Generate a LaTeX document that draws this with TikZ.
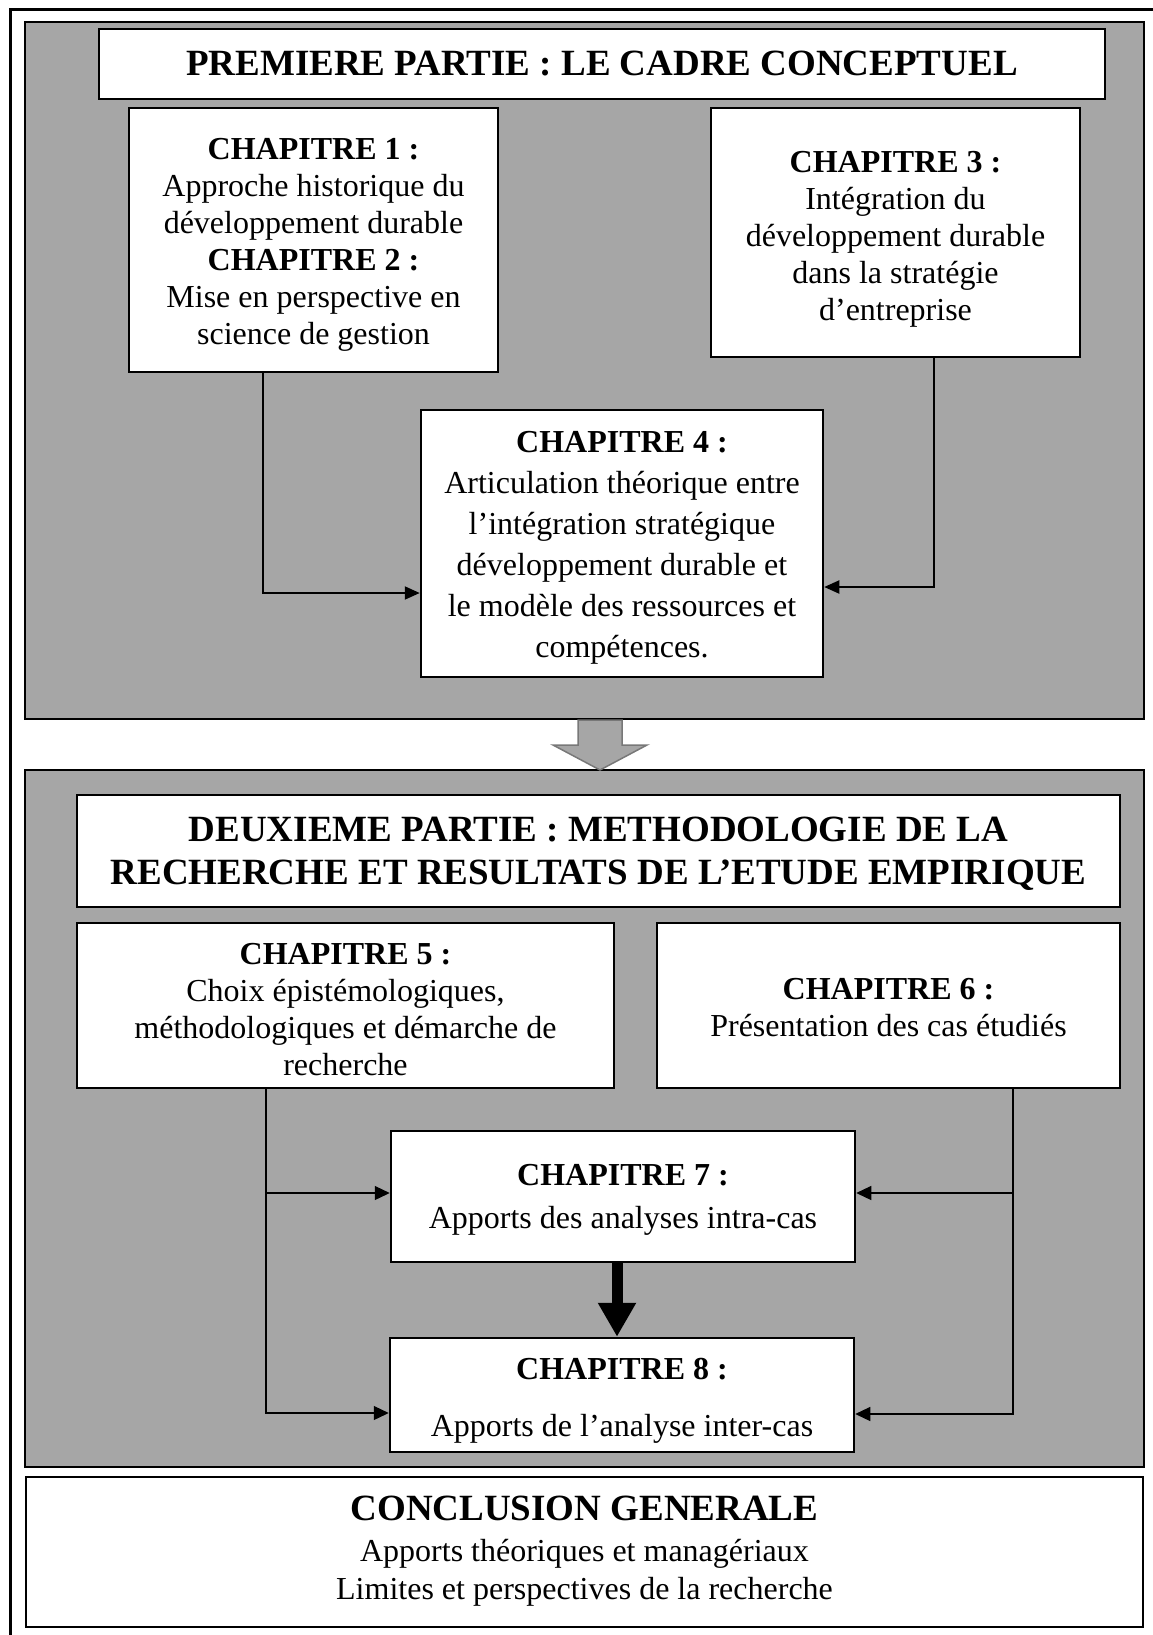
\documentclass[tikz,border=0pt]{standalone}
\usepackage{fontspec}
\setmainfont{Liberation Serif}
\usetikzlibrary{arrows.meta}
\definecolor{panelgray}{RGB}{166,166,166}
\definecolor{arrowedge}{RGB}{120,120,120}
\begin{document}
\begin{tikzpicture}[x=1pt,y=-1pt,
  panel/.style={draw=black, line width=2.5pt, fill=panelgray, inner sep=0pt},
  box/.style={draw=black, line width=2.5pt, fill=white, inner sep=0pt},
  txt/.style={align=center, inner sep=0pt, font=\fontsize{32}{37}\selectfont},
  titletxt/.style={txt, font=\fontsize{37}{43}\selectfont\bfseries},
  conn/.style={line width=2pt, -{Triangle[length=15pt,width=13pt]}},
  thinconn/.style={line width=1.2pt, -{Triangle[length=15pt,width=14pt]}},
  bigarrow/.style={line width=11pt, -{Triangle[length=34pt,width=36pt]}},
  blockarrow/.style={fill=panelgray, draw=arrowedge, line width=1.5pt}
]
\useasboundingbox (0,0) rectangle (1152,1635);
% outer frame
\draw[line width=3pt] (10,10) rectangle (1175,1660);

% ---------- Part 1 ----------
\node[panel, minimum width=1119pt, minimum height=697pt] (p1) at (584.5,370.5) {};
\node[box, minimum width=1006pt, minimum height=70pt] (t1) at (602,64) {};
\node[titletxt] (t1T) at (t1.center) {PREMIERE PARTIE : LE CADRE CONCEPTUEL};

\node[box, minimum width=369pt, minimum height=264pt] (ch1) at (313.5,240) {};
\node[txt] (ch1T) at ([yshift=-5pt]ch1.center)
  {\textbf{CHAPITRE 1 :}\\ Approche historique du\\ développement durable\\
   \textbf{CHAPITRE 2 :}\\ Mise en perspective en\\ science de gestion};

\node[box, minimum width=369pt, minimum height=249pt] (ch3) at (895.5,232.5) {};
\node[txt] (ch3T) at ([yshift=-7pt]ch3.center)
  {\textbf{CHAPITRE 3 :}\\ Intégration du\\ développement durable\\ dans la stratégie\\ d’entreprise};

\node[box, minimum width=402pt, minimum height=267pt] (ch4) at (622,543.5) {};
\node[txt, font=\fontsize{32}{41}\selectfont] (ch4T) at ([yshift=-4pt]ch4.center)
  {\textbf{CHAPITRE 4 :}\\ Articulation théorique entre\\ l’intégration stratégique\\
   développement durable et\\ le modèle des ressources et\\ compétences.};

\coordinate (a1) at (263,593);
\coordinate (a3) at (934,587);
\draw[conn] (ch1.south -| a1) |- (ch4.west |- a1);
\draw[conn] (ch3.south -| a3) |- (ch4.east |- a3);

% ---------- Part 2 ----------
\node[panel, minimum width=1119pt, minimum height=697pt] (p2) at (584.5,1118.5) {};

% block arrow between the two parts
\draw[blockarrow] (578,720) -- (622,720) -- (622,745) -- (647,745) -- (600,770)
  -- (553,745) -- (578,745) -- cycle;

\node[box, minimum width=1043pt, minimum height=112pt] (t2) at (598.5,851) {};
\node[titletxt] (t2T) at ([yshift=-3pt]t2.center)
  {DEUXIEME PARTIE : METHODOLOGIE DE LA\\ RECHERCHE ET RESULTATS DE L’ETUDE EMPIRIQUE};

\node[box, minimum width=537pt, minimum height=165pt] (ch5) at (345.5,1005.5) {};
\node[txt] (ch5T) at ([yshift=-4pt]ch5.center)
  {\textbf{CHAPITRE 5 :}\\ Choix épistémologiques,\\ méthodologiques et démarche de\\ recherche};

\node[box, minimum width=463pt, minimum height=165pt] (ch6) at (888.5,1005.5) {};
\node[txt] (ch6T) at ([yshift=-2pt]ch6.center)
  {\textbf{CHAPITRE 6 :}\\ Présentation des cas étudiés};

\node[box, minimum width=464pt, minimum height=131pt] (ch7) at (623,1196.5) {};
\node[txt] (ch7T) at ([yshift=-3pt]ch7.center)
  {\textbf{CHAPITRE 7 :}\\[6pt] Apports des analyses intra-cas};

\node[box, minimum width=464pt, minimum height=114pt] (ch8) at (622,1395) {};
\node[txt] (ch8T) at ([yshift=-6pt]ch8.center)
  {\textbf{CHAPITRE 8 :}\\[20pt] Apports de l’analyse inter-cas};

\coordinate (l7) at (266,1193);
\coordinate (l8) at (266,1413);
\coordinate (r7) at (1013,1193);
\coordinate (r8) at (1013,1414);
\draw[thinconn] (ch5.south -| l8) -- (l8) -- (ch8.west |- l8);
\draw[thinconn] (l7) -- (ch7.west |- l7);
\draw[thinconn] (ch6.south -| r8) -- (r8) -- (ch8.east |- r8);
\draw[thinconn] (r7) -- (ch7.east |- r7);

\coordinate (tx) at (617,0);
\draw[bigarrow] (ch7.south -| tx) -- (ch8.north -| tx);

% ---------- Conclusion ----------
\node[box, minimum width=1117pt, minimum height=150pt] (concl) at (584.5,1552) {};
\node[txt, font=\fontsize{32}{38}\selectfont] (conclT) at ([yshift=1pt]concl.center)
  {{\fontsize{37}{44}\selectfont\bfseries CONCLUSION GENERALE}\\[3pt]
   Apports théoriques et managériaux\\ Limites et perspectives de la recherche};
\end{tikzpicture}
\end{document}
